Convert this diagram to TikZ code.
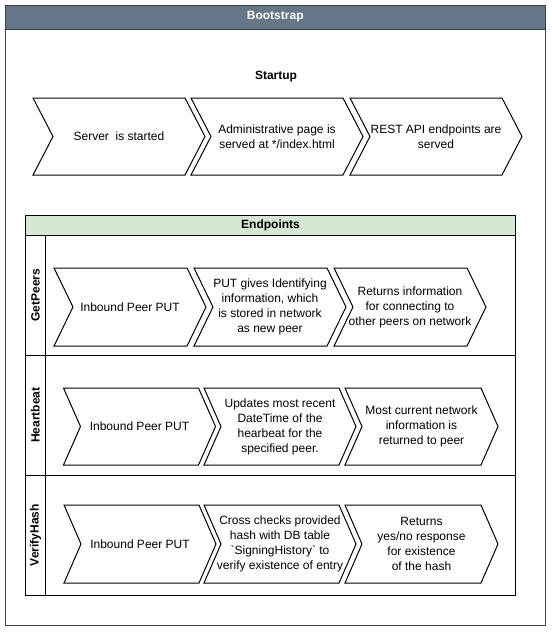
\documentclass[tikz,border=0pt]{standalone}
\usepackage{fontspec}
\setmainfont{Liberation Sans}[Ligatures=TeXOff]
\definecolor{slatefill}{HTML}{647687}
\definecolor{slateline}{HTML}{314354}
\definecolor{greenfill}{HTML}{D5E8D4}
\tikzset{
  chev/.style={draw=black, fill=white, line width=0.75pt, line join=miter},
  txt/.style={align=center, inner sep=0pt, font=\fontsize{9}{11.25}\selectfont},
  title/.style={inner sep=0pt, font=\fontsize{9}{11.25}\selectfont\bfseries},
  frame/.style={line width=0.75pt},
}
\newcommand\mychev[7]{%
  \filldraw[chev] (#2,#3) -- ({#2+#4-#6},#3) -- ({#2+#4},{#3+#5/2}) -- ({#2+#4-#6},{#3+#5}) -- (#2,{#3+#5}) -- ({#2+#6},{#3+#5/2}) -- cycle;
  \node[txt] (#1) at ({#2+#4/2},{#3+#5/2}) {#7};}
\begin{document}
\begin{tikzpicture}[x=0.75pt,y=-0.75pt]
\useasboundingbox[fill=white] (0,0) rectangle (552,632);
% outer container
\draw[frame, draw=slateline, fill=white] (5,5) rectangle (545.5,625);
\filldraw[frame, draw=slateline, fill=slatefill] (5,5) rectangle (545.5,29);
\node[title, text=white] (bootstrap) at (275.25,17) {Bootstrap};
\node[title] (startup) at (276,77) {Startup};
% startup chevrons
\mychev{s1}{33}{98}{172}{77}{20}{Server\ \ is started}
\mychev{s2}{191}{98}{172}{77}{20}{Administrative page is\\served at */index.html}
\mychev{s3}{350}{98}{172}{77}{20}{REST API endpoints are\\served}
% endpoints pool
\filldraw[frame, draw=black, fill=white] (25.5,215.3) rectangle (515.5,595);
\filldraw[frame, draw=black, fill=greenfill] (25.5,215.3) rectangle (515.5,235.3);
\node[title] (endpoints) at (270.5,225.3) {Endpoints};
\draw[frame] (25.5,355.3) -- (515.5,355.3);
\draw[frame] (25.5,475.3) -- (515.5,475.3);
\draw[frame] (45.3,235.3) -- (45.3,595);
\node[title, rotate=90] (getpeers) at (35.4,295.3) {GetPeers};
\node[title, rotate=90] (heartbeat) at (35.4,415.3) {Heartbeat};
\node[title, rotate=90] (verifyhash) at (35.4,535.2) {VerifyHash};
% GetPeers
\mychev{g1}{54}{268}{152}{78}{19}{Inbound Peer PUT}
\mychev{g2}{194}{268}{152}{78}{19}{PUT gives Identifying\\information, which\\is stored in network\\as new peer}
\mychev{g3}{334}{268}{152}{78}{19}{Returns information\\for connecting to\\other peers on network}
% Heartbeat
\mychev{h1}{63.5}{388}{152}{77}{17}{Inbound Peer PUT}
\mychev{h2}{204}{388}{152}{77}{17}{Updates most recent\\DateTime of the\\hearbeat for the\\specified peer.}
\mychev{h3}{345}{388}{153}{77}{17}{Most current network\\information is\\returned to peer}
% VerifyHash
\mychev{v1}{64}{505}{152}{78}{17}{Inbound Peer PUT}
\mychev{v2}{204}{505}{152}{78}{17}{Cross checks provided\\hash with DB table\\`SigningHistory` to\\verify existence of entry}
\mychev{v3}{345}{505}{153}{78}{17}{Returns\\yes/no response\\for existence\\of the hash}
\end{tikzpicture}
\end{document}
